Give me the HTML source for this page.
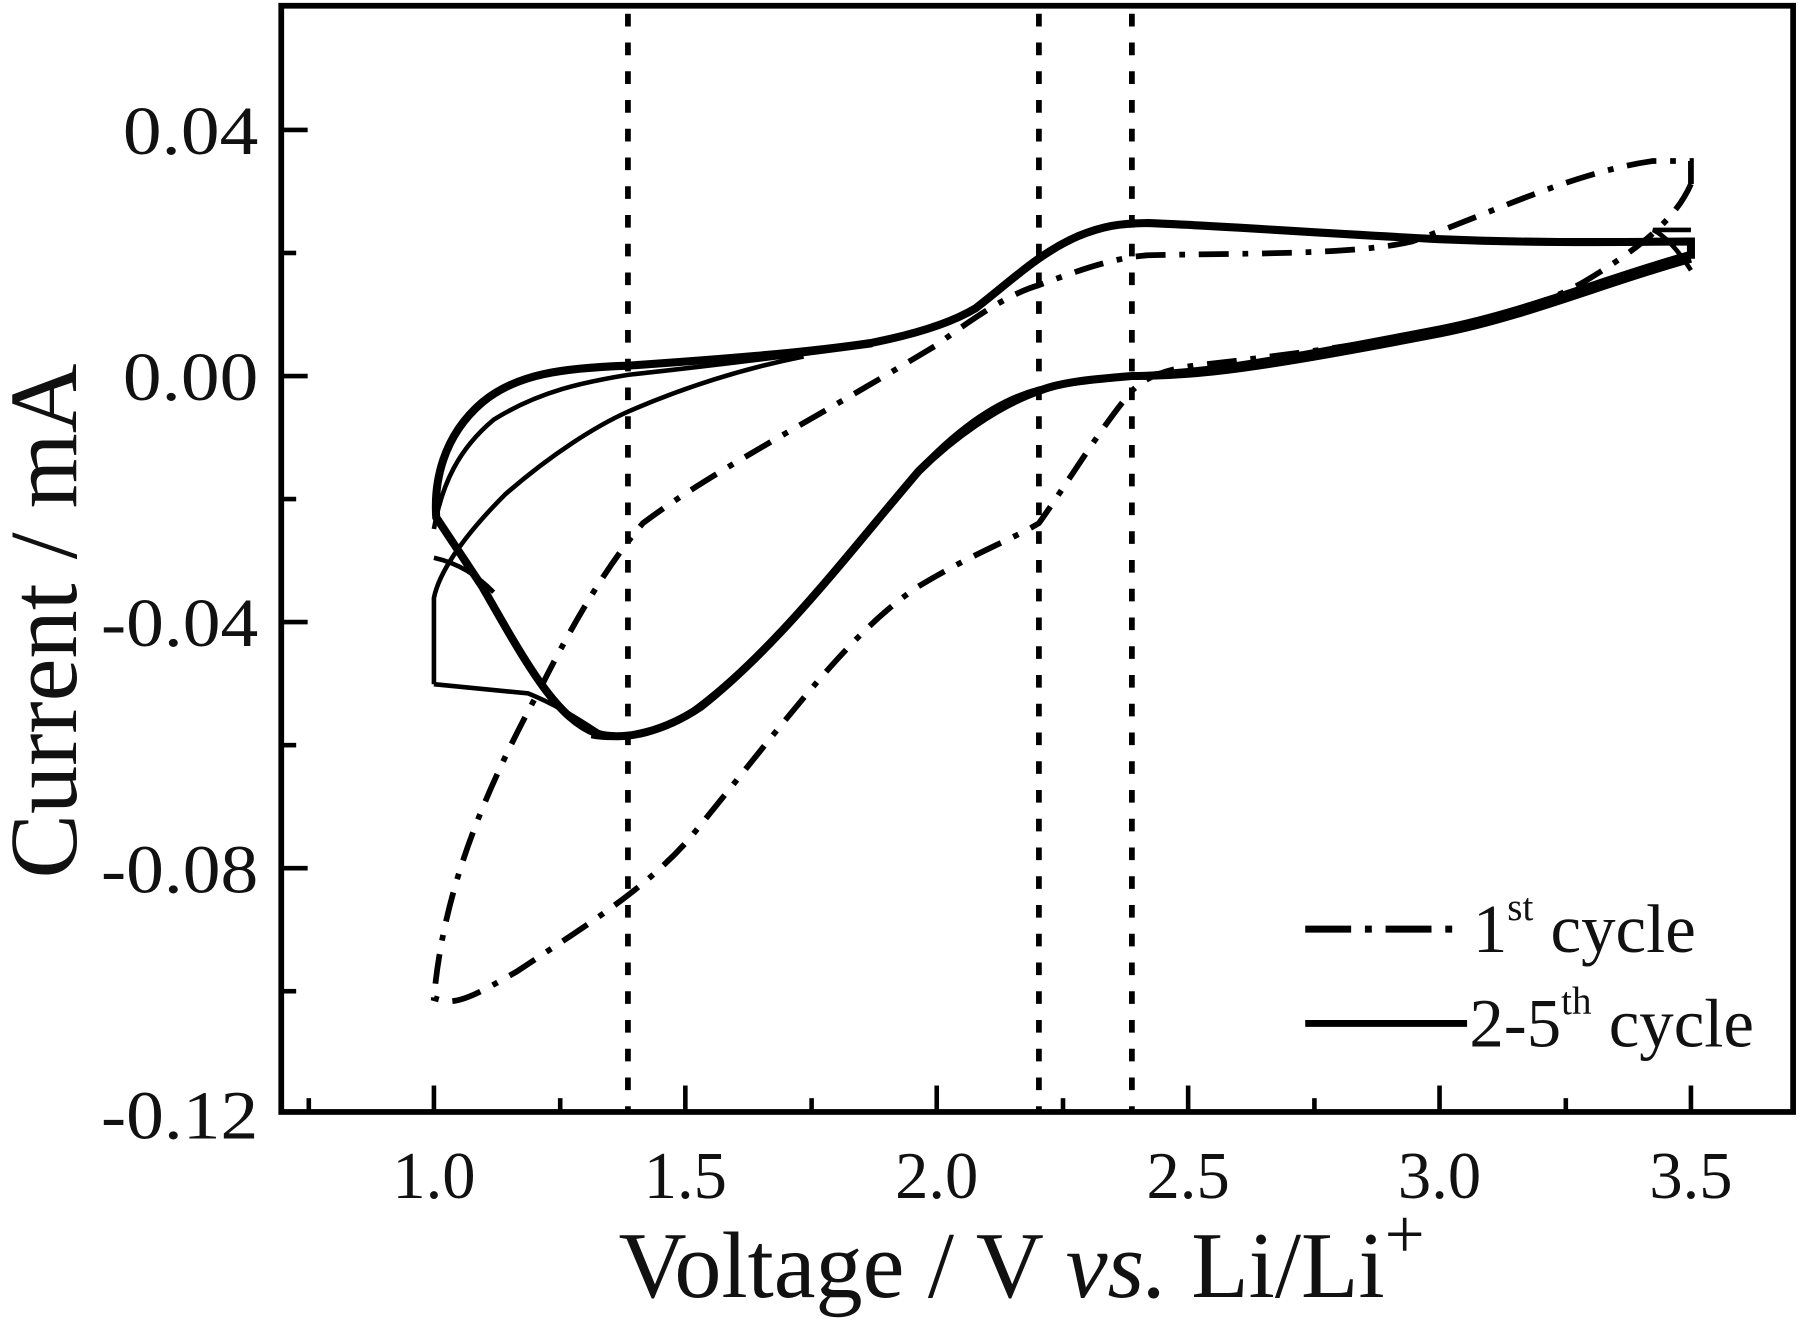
<!DOCTYPE html>
<html><head><meta charset="utf-8"><style>
html,body{margin:0;padding:0;background:#fff;width:1800px;height:1327px;overflow:hidden}
svg{display:block}
text{font-family:"Liberation Serif",serif;fill:#111}
</style></head><body>
<svg width="1800" height="1327" viewBox="0 0 1568 1154" preserveAspectRatio="none">
<rect x="0" y="0" width="1568" height="1154" fill="#fff"/>
<g stroke="#000" stroke-width="5" stroke-dasharray="11 14" fill="none">
<line x1="547" y1="12" x2="547" y2="965"/>
<line x1="905" y1="12" x2="905" y2="965"/>
<line x1="986" y1="12" x2="986" y2="965"/>
</g>
<rect x="245" y="5" width="1317" height="962" fill="none" stroke="#000" stroke-width="5"/>
<g stroke="#000" stroke-width="4">
<line x1="245" y1="113" x2="268" y2="113"/><line x1="245" y1="327" x2="268" y2="327"/>
<line x1="245" y1="541" x2="268" y2="541"/><line x1="245" y1="755" x2="268" y2="755"/>
<line x1="245" y1="220" x2="258" y2="220"/><line x1="245" y1="434" x2="258" y2="434"/>
<line x1="245" y1="648" x2="258" y2="648"/><line x1="245" y1="862" x2="258" y2="862"/>
<line x1="378" y1="967" x2="378" y2="944"/><line x1="597" y1="967" x2="597" y2="944"/>
<line x1="816" y1="967" x2="816" y2="944"/><line x1="1035" y1="967" x2="1035" y2="944"/>
<line x1="1254" y1="967" x2="1254" y2="944"/><line x1="1473" y1="967" x2="1473" y2="944"/>
<line x1="269" y1="967" x2="269" y2="955"/><line x1="488" y1="967" x2="488" y2="955"/>
<line x1="707" y1="967" x2="707" y2="955"/><line x1="926" y1="967" x2="926" y2="955"/>
<line x1="1145" y1="967" x2="1145" y2="955"/><line x1="1364" y1="967" x2="1364" y2="955"/>
</g>
<g font-size="60">
<text x="107" y="134" textLength="118" lengthAdjust="spacingAndGlyphs">0.04</text>
<text x="107" y="348" textLength="118" lengthAdjust="spacingAndGlyphs">0.00</text>
<text x="88" y="562" textLength="137" lengthAdjust="spacingAndGlyphs">-0.04</text>
<text x="88" y="776" textLength="137" lengthAdjust="spacingAndGlyphs">-0.08</text>
<text x="88" y="990" textLength="137" lengthAdjust="spacingAndGlyphs">-0.12</text>
</g>
<g font-size="58" text-anchor="middle">
<text x="378" y="1042">1.0</text><text x="597" y="1042">1.5</text><text x="816" y="1042">2.0</text>
<text x="1035" y="1042">2.5</text><text x="1254" y="1042">3.0</text><text x="1473" y="1042">3.5</text>
</g>
<text x="890" y="1128" font-size="82" text-anchor="middle">Voltage / V <tspan font-style="italic">vs.</tspan> Li/Li<tspan font-size="62" dy="-34">+</tspan></text>
<text transform="translate(66,540) rotate(-90)" font-size="84" text-anchor="middle">Current / mA</text>
<path fill="none" stroke="#000" stroke-width="5" stroke-dasharray="26 12 5 12"
d="M1473,160 C1460,190 1430,215 1380,245 C1320,280 1200,300 1040,318 C1010,322 996,330 986,340 C960,370 930,420 905,455 C880,470 850,480 800,510 C740,550 690,620 600,730 C560,775 510,805 450,845 C420,862 400,874 385,870 L378,868 C385,790 410,710 470,600 C500,540 530,490 560,455 C620,410 700,370 816,300 C850,275 880,255 905,248 C940,235 970,224 1000,222 C1080,220 1180,222 1230,210 C1300,185 1370,150 1440,140 L1473,140 L1473,160"/>
<g fill="none" stroke="#000">
<path stroke-width="7" d="M1473,225 C1400,245 1330,275 1254,290 C1150,310 1080,322 1035,325 C1010,327 995,327 986,327 C950,330 925,332 905,340 C870,352 830,380 800,410 C740,480 680,560 610,615 C580,635 545,645 520,638 C485,625 460,580 420,510 C400,480 390,465 380,450 C378,420 385,380 420,350 C450,325 490,320 547,318 C620,313 700,307 760,298 C800,290 830,280 850,268 C880,245 905,220 940,205 C960,197 975,194 1000,194 C1060,196 1150,203 1254,208 C1350,212 1430,210 1473,210 L1473,225"/>
<path stroke-width="4" d="M1473,220 C1400,240 1330,270 1254,285 C1150,305 1080,318 1035,322 C1000,325 960,330 905,338 C860,350 820,385 790,420 C730,490 670,570 600,620 C570,638 540,645 515,640"/>
<path stroke-width="4" d="M378,460 C385,420 400,390 430,365 C470,340 510,332 547,326 C620,318 700,308 760,300"/>
<path stroke-width="4" d="M378,595 L378,520 C382,500 400,470 440,430 C480,395 520,370 547,358 C600,335 650,320 700,310"/>
<path stroke-width="4" d="M378,595 C400,597 430,600 460,603 C490,615 510,630 530,642"/>
<path stroke-width="4" d="M378,485 C400,490 415,500 430,515"/>
<path stroke-width="4" d="M1473,235 C1460,215 1450,205 1440,200 L1473,200"/>
</g>
<line x1="1137" y1="808" x2="1272" y2="808" stroke="#000" stroke-width="6" stroke-dasharray="40 12 6 12"/>
<text x="1283" y="828" font-size="60">1<tspan font-size="34" dy="-28">st</tspan><tspan dy="28"> cycle</tspan></text>
<line x1="1137" y1="890" x2="1278" y2="890" stroke="#000" stroke-width="6"/>
<text x="1280" y="910" font-size="60">2-5<tspan font-size="34" dy="-28">th</tspan><tspan dy="28"> cycle</tspan></text>
</svg>
</body></html>
